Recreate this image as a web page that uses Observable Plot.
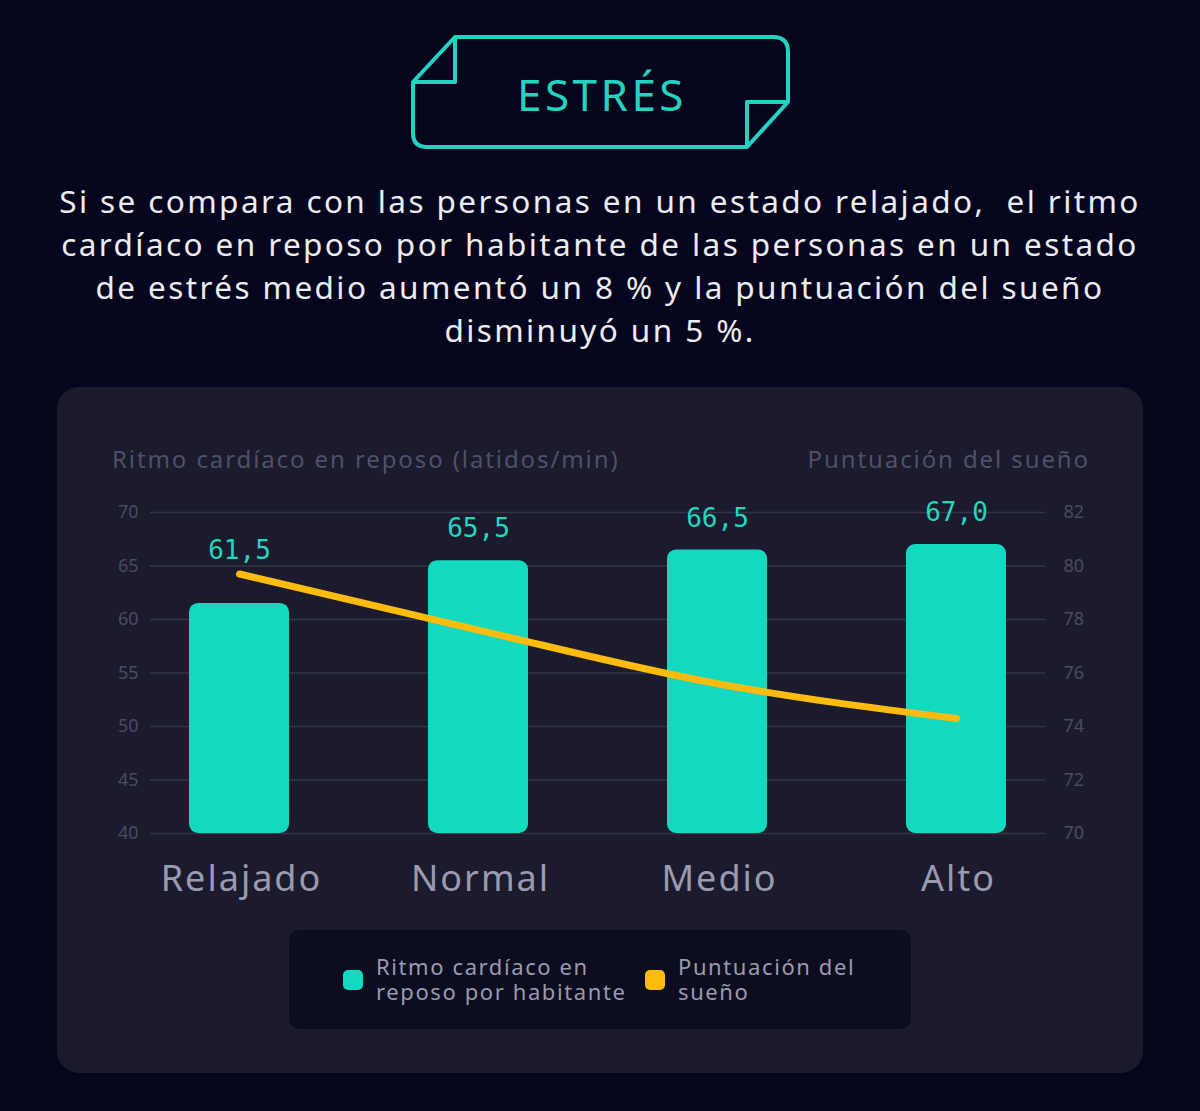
<!DOCTYPE html>
<html>
<head>
<meta charset="utf-8">
<script src="https://cdn.jsdelivr.net/npm/d3@7"></script>
<script src="https://cdn.jsdelivr.net/npm/@observablehq/plot@0.6"></script>
<style>
  html, body { margin: 0; padding: 0; background: #05051d; }
  #page { position: relative; width: 1200px; height: 1111px; background: #05051d; overflow: hidden; font-family: "Noto Sans", sans-serif; }
  #banner { position: absolute; left: 0; top: 0; }
  #subtitle { position: absolute; left: 0; top: 179px; width: 1200px; text-align: center; color: #ececf3; font-size: 31.5px; line-height: 43px; white-space: pre; letter-spacing: 2.4px; }
  #card { position: absolute; left: 57px; top: 387px; width: 1086px; height: 686px; background: #1b1b2d; border-radius: 22px; }
  .axtitle { position: absolute; top: 442px; font-size: 24px; color: #50506b; white-space: nowrap; letter-spacing: 1.9px; }
  #chart { position: absolute; left: 57px; top: 480px; }
  #legend { position: absolute; left: 289px; top: 930px; width: 622px; height: 99px; background: #0c0d1f; border-radius: 10px; }
  .sw { position: absolute; width: 20px; height: 20px; border-radius: 5px; top: 40px; }
  .lt { position: absolute; top: 24px; font-size: 22px; line-height: 25px; color: #9a9ab0; white-space: pre; letter-spacing: 1.6px; }
</style>
</head>
<body>
<div id="page">
  <svg id="banner" width="1200" height="170">
    <g fill="none" stroke="#22d4bf" stroke-width="4" stroke-linejoin="round">
      <path d="M455,37 L773,37 Q788,37 788,52 L788,102 L747,147 L427,147 Q413,147 413,133 L413,82 Z"/>
      <path d="M413,82 L455,82 L455,37"/>
      <path d="M788,102 L747,102 L747,147"/>
    </g>
    <text id="bannertext" x="602" y="94" text-anchor="middle" dominant-baseline="central" fill="#22d4bf" font-family="Noto Sans" font-size="44" letter-spacing="3.5"></text>
  </svg>
  <div id="subtitle"></div>
  <div id="card"></div>
  <div class="axtitle" id="lefttitle" style="left:112px"></div>
  <div class="axtitle" id="righttitle" style="right:110px"></div>
  <div id="chart"></div>
  <div id="legend">
    <div class="sw" style="left:54px; background:#14d9c1"></div>
    <div class="lt" id="lg1" style="left:87px"></div>
    <div class="sw" style="left:356px; background:#fdbb0d"></div>
    <div class="lt" id="lg2" style="left:389px"></div>
  </div>
</div>
<script>
// ---- data ----
const categories = ["Relajado", "Normal", "Medio", "Alto"];
const heartRate = [61.5, 65.5, 66.5, 67.0];
const sleepScore = [79.7, 77.6, 75.6, 74.3];
const leftTicks = [40, 45, 50, 55, 60, 65, 70];
const rightTicks = [70, 72, 74, 76, 78, 80, 82];
const leftDomain = [40, 70];
const rightDomain = [70, 82];
const titleText = "ESTRÉS";
const subtitleLines = [
  "Si se compara con las personas en un estado relajado,  el ritmo",
  "cardíaco en reposo por habitante de las personas en un estado",
  "de estrés medio aumentó un 8 % y la puntuación del sueño",
  "disminuyó un 5 %."
];
const leftAxisTitle = "Ritmo cardíaco en reposo (latidos/min)";
const rightAxisTitle = "Puntuación del sueño";
const legendLabels = ["Ritmo cardíaco en\nreposo por habitante", "Puntuación del\nsueño"];

// ---- colours ----
const barColor = "#14d9c1";
const lineColor = "#fdbb0d";

document.getElementById("bannertext").textContent = titleText;
document.getElementById("subtitle").textContent = subtitleLines.join("\n");
document.getElementById("lefttitle").textContent = leftAxisTitle;
document.getElementById("righttitle").textContent = rightAxisTitle;
document.getElementById("lg1").textContent = legendLabels[0];
document.getElementById("lg2").textContent = legendLabels[1];

const toLeft = v => leftDomain[0] + (v - rightDomain[0]) * (leftDomain[1] - leftDomain[0]) / (rightDomain[1] - rightDomain[0]);

const rows = categories.map((c, i) => ({
  cat: c,
  hr: heartRate[i],
  sleep: sleepScore[i],
  sleepL: toLeft(sleepScore[i]),
  label: heartRate[i].toFixed(1).replace(".", ",")
}));

const chart = Plot.plot({
  width: 1086,
  height: 423,
  marginLeft: 93,
  marginRight: 98,
  marginTop: 32,
  marginBottom: 70,
  style: { background: "transparent", fontFamily: "Noto Sans" },
  x: { domain: categories, paddingInner: 0.583, paddingOuter: 0.16, axis: null },
  y: { domain: leftDomain, axis: null },
  marks: [
    Plot.gridY(leftTicks, { stroke: "#34344b", strokeOpacity: 1, strokeWidth: 1.5 }),
    Plot.axisY(leftTicks, { anchor: "left", tickSize: 0, tickPadding: 12, fontSize: 18, fill: "#4b4b64", label: null }),
    Plot.axisY(rightTicks.map(toLeft), { anchor: "right", tickSize: 0, tickPadding: 18, fontSize: 18, fill: "#4b4b64", label: null,
      tickFormat: (d, i) => String(rightTicks[i]) }),
    Plot.barY(rows, { x: "cat", y1: () => leftDomain[0], y2: "hr", fill: barColor, rx: 9 }),
    Plot.line(rows, { x: "cat", y: "sleepL", stroke: lineColor, strokeWidth: 7, strokeLinecap: "round", strokeLinejoin: "round", curve: "monotone-x" }),
    Plot.text(rows, { x: "cat", y: d => Math.max(d.hr + 2.95, d.sleepL + 2.2), text: "label", fill: "#24d5c0", fontSize: 26, fontFamily: "DejaVu Sans Mono", lineAnchor: "middle" }),
    Plot.text(rows, { x: "cat", frameAnchor: "bottom", text: "cat", dy: 46, dx: 2, fill: "#9a9ab0", fontSize: 36, lineAnchor: "middle" })
  ]
});
document.getElementById("chart").appendChild(chart);
// letter spacing on category labels (last text mark)
const textGroups = chart.querySelectorAll("g[aria-label='text']");
if (textGroups.length) textGroups[textGroups.length - 1].setAttribute("letter-spacing", "2");
</script>
</body>
</html>
